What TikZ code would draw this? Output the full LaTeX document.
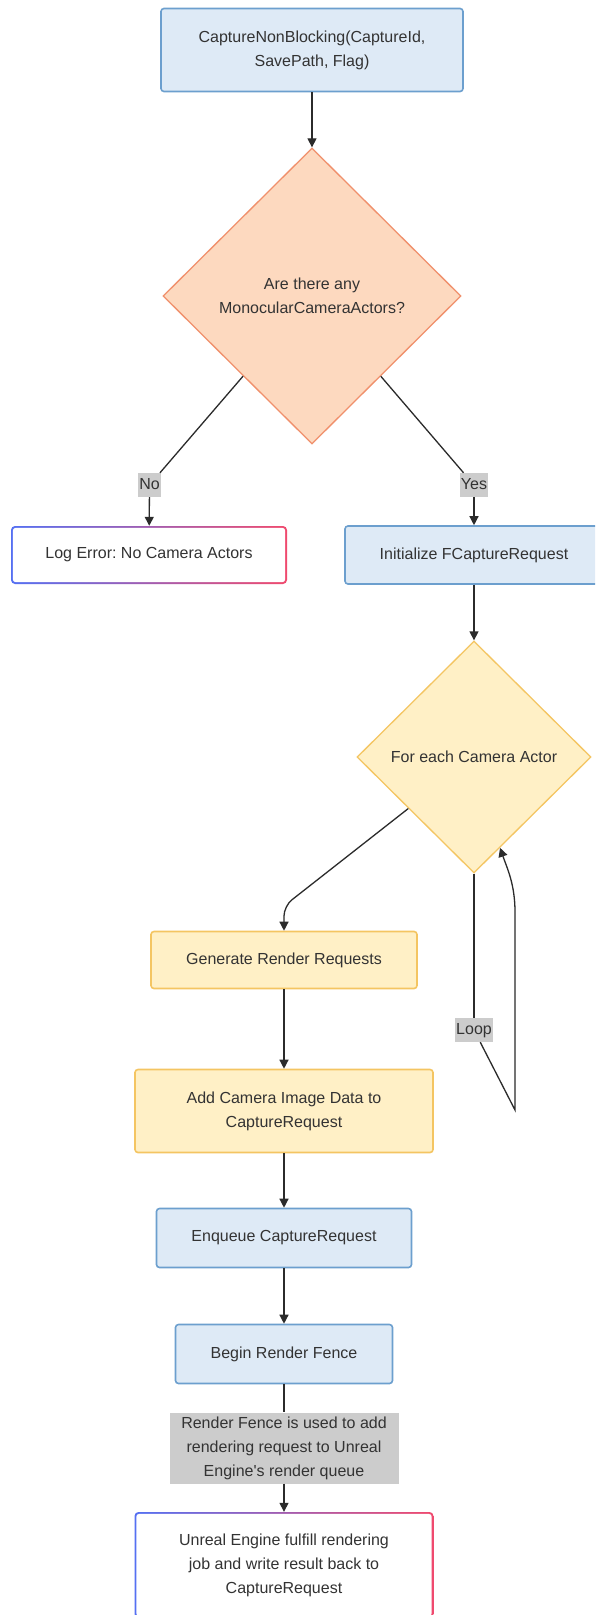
\documentclass[tikz,border=0pt]{standalone}
\usepackage{fontspec}
\setmainfont{Liberation Sans}
\usetikzlibrary{shapes.geometric,arrows.meta}
\frenchspacing

\definecolor{txt}{HTML}{333333}
\definecolor{edgecol}{HTML}{2B2B2B}
\definecolor{bluefill}{HTML}{DEEAF6}
\definecolor{blueline}{HTML}{6C9FCE}
\definecolor{peachfill}{HTML}{FDD9BF}
\definecolor{peachline}{HTML}{F0906C}
\definecolor{yelfill}{HTML}{FFF0C6}
\definecolor{yelline}{HTML}{F4C562}
\definecolor{gradL}{HTML}{5570F2}
\definecolor{gradR}{HTML}{F04A6E}
\definecolor{lblfill}{HTML}{CCCCCC}

\begin{document}
\begin{tikzpicture}[x=1pt,y=-1pt,
  every node/.style={font=\fontsize{16pt}{24pt}\selectfont, text=txt, align=center, inner sep=0pt},
  bluebox/.style={draw=blueline, fill=bluefill, line width=1.6pt, rounded corners=3pt},
  yelbox/.style={draw=yelline, fill=yelfill, line width=1.6pt, rounded corners=3pt},
  gradbox/.style={rounded corners=4pt, path picture={
      \shade[left color=gradL, right color=gradR]
        (path picture bounding box.south west) rectangle (path picture bounding box.north east);
      \fill[white, rounded corners=3pt]
        ([shift={(1.8pt,1.8pt)}]path picture bounding box.south west) rectangle
        ([shift={(-1.8pt,-1.8pt)}]path picture bounding box.north east);
  }},
  decision/.style={diamond, shape aspect=1, line width=1.3pt},
  edgelabel/.style={fill=lblfill, inner xsep=0.8pt, minimum height=24pt, text height=12pt, text depth=4pt},
  link/.style={draw=edgecol, line width=1.3pt},
  arr/.style={link, -{Triangle[length=9pt,width=9pt]}}
]
\useasboundingbox (0,0) rectangle (595,1615);
\clip (0,0) rectangle (595,1615);
\fill[white] (0,0) rectangle (595,1615);

% boxes and decisions
\node[bluebox, minimum width=302pt, minimum height=83pt] (start) at (312,50)
  {CaptureNonBlocking(CaptureId,\\SavePath, Flag)};
\node[decision, draw=peachline, fill=peachfill, minimum width=298pt, minimum height=296pt] (anycam) at (312,296)
  {Are there any\\MonocularCameraActors?};
\node[gradbox, minimum width=276pt, minimum height=58pt] (logerr) at (149,555)
  {Log Error: No Camera Actors};
\node[bluebox, minimum width=258pt, minimum height=58pt] (initreq) at (474,555)
  {Initialize FCaptureRequest};
\node[decision, draw=yelline, fill=yelfill, minimum width=234pt, minimum height=232pt] (foreach) at (474,757)
  {For each Camera Actor};
\node[yelbox, minimum width=266pt, minimum height=57pt] (genreq) at (284,960)
  {Generate Render Requests};
\node[yelbox, minimum width=298pt, minimum height=83pt] (adddata) at (284,1111)
  {Add Camera Image Data to\\CaptureRequest};
\node[bluebox, minimum width=255pt, minimum height=59pt] (enqueue) at (284,1238)
  {Enqueue CaptureRequest};
\node[bluebox, minimum width=217pt, minimum height=59pt] (fence) at (284,1354)
  {Begin Render Fence};
\node[gradbox, minimum width=299pt, minimum height=106pt] (fulfill) at (284,1565)
  {Unreal Engine fulfill rendering\\job and write result back to\\CaptureRequest};

% edge labels
\node[edgelabel] (nolab) at (149.5,485) {No};
\node[edgelabel] (yeslab) at (474,485) {Yes};
\node[edgelabel] (looplab) at (474,1030) {Loop};
\node[fill=lblfill, minimum width=229pt, minimum height=71pt] (fencelab) at (284,1448)
  {Render Fence is used to add\\rendering request to Unreal\\Engine\textquotesingle s render queue};

% bend points
\coordinate (bendA) at (284,906);
\coordinate (loopB) at (515,1110);
\coordinate (loopC) at (515,912);

% connectors
\draw[arr] (start) -- (anycam);
\draw[link] (anycam) -- (nolab);
\draw[arr] (nolab) -- (logerr);
\draw[link] (anycam) -- (yeslab);
\draw[arr] (yeslab) -- (initreq);
\draw[arr] (initreq) -- (foreach);
\draw[arr, rounded corners=10pt] (foreach) -- (bendA) -- (genreq);
\draw[arr] (genreq) -- (adddata);
\draw[arr] (adddata) -- (enqueue);
\draw[arr] (enqueue) -- (fence);
\draw[link] (fence) -- (fencelab);
\draw[arr] (fencelab) -- (fulfill);
\draw[link] (foreach) -- (looplab);
\draw[arr] (looplab) -- (loopB) -- (loopC) .. controls (515,884) and (507,868) .. (foreach.-74);
\end{tikzpicture}
\end{document}
